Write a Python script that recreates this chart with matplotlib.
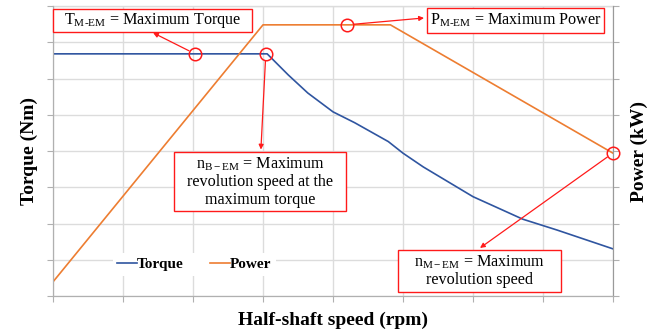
import matplotlib
matplotlib.use('agg')
import matplotlib.pyplot as plt
from matplotlib.patches import Rectangle

# values (the chart has no tick labels, units are nominal)
torque_speed = [0, 6120, 6720, 7280, 8000, 8620, 9580, 10000, 10580, 12000, 13420, 14400, 16000]
torque_nm = [334, 334, 305, 280, 254, 239, 213, 197, 178, 137, 106, 91, 65]

power_speed = [0, 6000, 9640, 16000]
power_kw = [7.8, 149.6, 149.6, 78.8]

circle_torque = [(4060, 334), (6080, 334)]
circle_power = [(8400, 149.6), (16000, 78.9)]

TORQUE_C = "#2F55A0"
POWER_C = "#ED7D31"
RED = "#FF1A1A"

plt.rcParams['font.family'] = ['Liberation Serif', 'DejaVu Serif']
plt.rcParams['mathtext.fontset'] = 'custom'
plt.rcParams['mathtext.rm'] = 'Liberation Serif'
plt.rcParams['mathtext.it'] = 'Liberation Serif:italic'
plt.rcParams['mathtext.bf'] = 'Liberation Serif:bold'

fig = plt.figure(figsize=(6.62, 3.34), dpi=100)
ax = fig.add_axes([53/662, 1 - 296/334, 560/662, 290/334])
ax2 = ax.twinx()

ax.set_xlim(0, 16000)
ax.set_ylim(0, 400)
ax2.set_ylim(0, 160)
ax.set_xticks(range(0, 16001, 2000))
ax.set_yticks(range(0, 401, 50))
ax2.set_yticks(range(0, 161, 20))
for a in (ax, ax2):
    a.tick_params(length=4, width=0.8, color="#B0B0B0", labelleft=False,
                  labelright=False, labelbottom=False)
    for s in a.spines.values():
        s.set_color("#B0B0B0")
        s.set_linewidth(0.8)
    a.spines['top'].set_visible(False)
ax2.spines['right'].set_color("#9A9A9A")
ax.grid(True, color="#DCDCDC", linewidth=1.0)
ax.set_axisbelow(True)
ax.plot([0, 16000], [400, 400], color="#DCDCDC", linewidth=1.0, clip_on=False, zorder=0)

l1, = ax.plot(torque_speed, torque_nm, color=TORQUE_C, linewidth=1.2, label="Torque")
l2, = ax2.plot(power_speed, power_kw, color=POWER_C, linewidth=1.2, label="Power")

for sx, sy in circle_torque:
    ax.plot(sx, sy, 'o', ms=9, mfc='none', mec=RED, mew=1.1, clip_on=False, zorder=5)
for sx, sy in circle_power:
    ax2.plot(sx, sy, 'o', ms=9, mfc='none', mec=RED, mew=1.1, clip_on=False, zorder=5)

ax.set_xlabel("Half-shaft speed (rpm)", fontsize=14, fontweight='bold', labelpad=7)
ax.set_ylabel("Torque (Nm)", fontsize=14, fontweight='bold', labelpad=7)
ax2.set_ylabel("Power (kW)", fontsize=14, fontweight='bold', labelpad=9)

leg = ax2.legend([l1, l2], ["Torque", "Power"], loc='center', bbox_to_anchor=(0.252, 0.11),
                 ncol=2, frameon=True, fancybox=False, edgecolor='none', framealpha=1,
                 handlelength=1.3, handletextpad=0.0, columnspacing=1.7,
                 prop={'weight': 'bold', 'size': 11}, borderpad=0.3)


def box(x0, y0, x1, y1, text):
    # box edges given in figure pixels, measured from the top-left
    fx0, fx1 = x0 / 662, x1 / 662
    fy0, fy1 = 1 - y1 / 334, 1 - y0 / 334
    fig.patches.append(Rectangle((fx0, fy0), fx1 - fx0, fy1 - fy0, transform=fig.transFigure,
                                 facecolor='white', edgecolor=RED, linewidth=1.0, zorder=6))
    fig.text((fx0 + fx1) / 2, (fy0 + fy1) / 2, text, ha='center', va='center',
             fontsize=11.6, linespacing=1.12, zorder=7)


box(53, 9, 252, 32, r"T$_{\mathrm{M\text{-}EM}}$ = Maximum Torque")
box(427, 8, 604, 33, r"P$_{\mathrm{M\text{-}EM}}$ = Maximum Power")
box(174, 152, 346, 211, "n$_{\\mathrm{B-EM}}$ = Maximum\nrevolution speed at the\nmaximum torque")
box(398, 250, 561, 292, "n$_{\\mathrm{M-EM}}$ = Maximum\nrevolution speed")

arrow = dict(arrowstyle='-|>', color=RED, lw=0.9, mutation_scale=7, shrinkA=5, shrinkB=0)
ax.annotate("", xy=(2860, 363), xytext=circle_torque[0], arrowprops=arrow, zorder=8,
            annotation_clip=False)
ax.annotate("", xy=(5940, 202), xytext=circle_torque[1], arrowprops=arrow, zorder=8,
            annotation_clip=False)
ax2.annotate("", xy=(10600, 153.4), xytext=circle_power[0], arrowprops=arrow, zorder=8,
             annotation_clip=False)
ax2.annotate("", xy=(12200, 26.5), xytext=circle_power[1], arrowprops=arrow, zorder=8,
             annotation_clip=False)

fig.savefig("out.png", dpi=100)
